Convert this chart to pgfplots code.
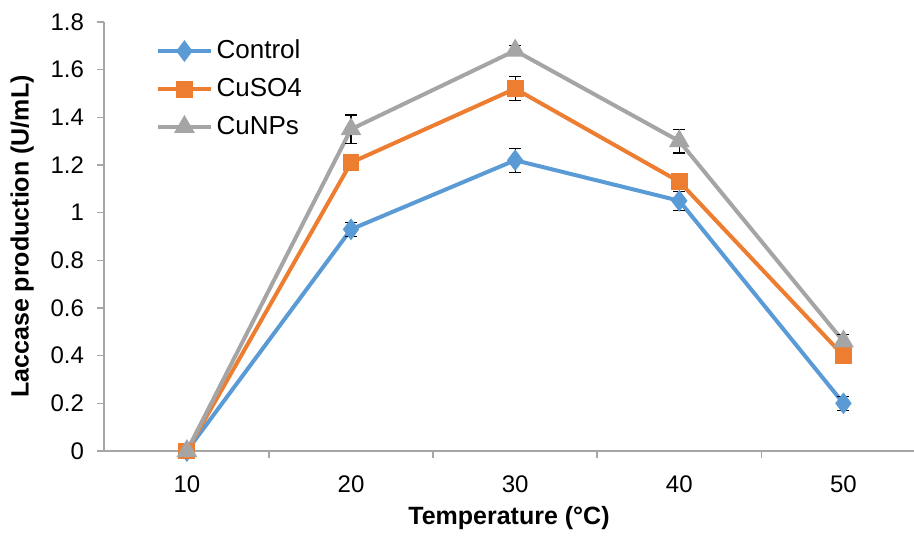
\documentclass[border=0pt]{standalone}
\usepackage{fontspec}
\setmainfont{Liberation Sans}
\usepackage{pgfplots}
\pgfplotsset{compat=1.18}

\definecolor{ctrl}{HTML}{5B9BD5}
\definecolor{cuso}{HTML}{ED7D31}
\definecolor{cunp}{HTML}{A5A5A5}
\definecolor{axgray}{HTML}{A6A6A6}

\begin{document}
\begin{tikzpicture}
\begin{axis}[
    name=ax,
    scale only axis,
    width=405pt, height=214.5pt,
    xmin=4.95, xmax=54.3,
    ymin=0, ymax=1.8,
    axis x line*=bottom,
    axis y line*=left,
    axis line style={axgray, line width=0.8pt},
    xtick={10,20,30,40,50},
    major x tick style={draw=none},
    minor xtick={15,25,35,45},
    minor x tick style={axgray, line width=0.8pt},
    minor tick length=3.5pt,
    ytick={0,0.2,...,1.8},
    y tick style={axgray, line width=0.8pt},
    major tick length=3.5pt,
    tick align=outside,
    yticklabel style={/pgf/number format/fixed, /pgf/number format/precision=1, xshift=-3pt},
    /pgf/number format/assume math mode=true,
    tick label style={font=\fontsize{12}{14}\selectfont},
    xticklabel style={yshift=-5.5pt},
    xlabel={\textbf{Temperature (°C)}},
    ylabel={\textbf{Laccase production (U/mL)}},
    label style={font=\fontsize{12.5}{14}\selectfont},
    xlabel style={at={(0.5,-0.157)}, anchor=center},
    ylabel style={at={(-0.101,0.5)}, anchor=center},
    legend style={draw=none, fill=none, at={(0.064,0.968)}, anchor=north west,
        font=\fontsize{13}{15}\selectfont, row sep=4.3pt, inner sep=0pt},
    legend cell align={left},
    legend image code/.code={
        \draw[mark repeat=2, mark phase=2, #1] plot coordinates {(0cm,0cm) (0.46cm,0cm) (0.92cm,0cm)};
    },
    clip=false,
]
\addplot[ctrl, line width=2pt, mark=diamond*, mark size=3.8pt,
    error bars/.cd, y dir=both, y explicit,
    error bar style={black, line width=0.6pt}, error mark options={black, rotate=90, mark size=3pt, line width=0.6pt}]
    coordinates {(10,0) (20,0.93) +- (0,0.03) (30,1.22) +- (0,0.05) (40,1.05) +- (0,0.04) (50,0.20) +- (0,0.03)};
\addlegendentry{Control}
\addplot[cuso, line width=2pt, mark=square*, mark size=3.2pt,
    error bars/.cd, y dir=both, y explicit,
    error bar style={black, line width=0.6pt}, error mark options={black, rotate=90, mark size=3pt, line width=0.6pt}]
    coordinates {(10,0) (20,1.21) +- (0,0.01) (30,1.52) +- (0,0.05) (40,1.13) +- (0,0.03) (50,0.40) +- (0,0.02)};
\addlegendentry{CuSO4}
\addplot[cunp, line width=2pt, mark=triangle*, mark size=4pt,
    error bars/.cd, y dir=both, y explicit,
    error bar style={black, line width=0.6pt}, error mark options={black, rotate=90, mark size=3pt, line width=0.6pt}]
    coordinates {(10,0) (20,1.35) +- (0,0.06) (30,1.68) +- (0,0.02) (40,1.30) +- (0,0.05) (50,0.46) +- (0,0.03)};
\addlegendentry{CuNPs}
\end{axis}
\pgfresetboundingbox
\path[use as bounding box] ([shift={(-52pt,-42pt)}]ax.south west) rectangle ([shift={(0pt,11pt)}]ax.north east);
\end{tikzpicture}
\end{document}
